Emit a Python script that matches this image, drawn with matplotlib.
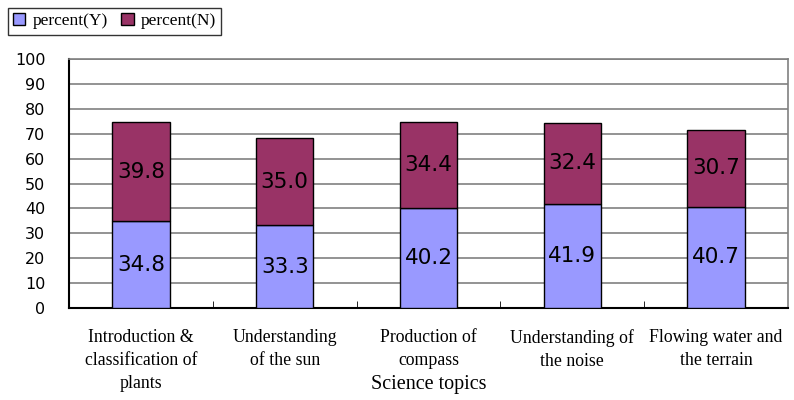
import matplotlib.pyplot as plt
import numpy as np

# Data
topics = ['Introduction &\nclassification of\nplants', 'Understanding\nof the sun',
          'Production of\ncompass', 'Understanding of\nthe noise', 'Flowing water and\nthe terrain']
pct_yes = [34.8, 33.3, 40.2, 41.9, 40.7]
pct_no = [39.8, 35.0, 34.4, 32.4, 30.7]
yticks = [0, 10, 20, 30, 40, 50, 60, 70, 80, 90, 100]

serif = 'Liberation Serif'
fig = plt.figure(figsize=(7.94, 4.0), dpi=100)
ax = fig.add_axes([69 / 794, 1 - 308 / 400, (788 - 69) / 794, (308 - 59) / 400])

x = np.arange(len(topics))
b1 = ax.bar(x, pct_yes, width=0.40, color='#9999FF', edgecolor='black', linewidth=1,
            label='percent(Y)', zorder=3)
b2 = ax.bar(x, pct_no, width=0.40, bottom=pct_yes, color='#993366', edgecolor='black',
            linewidth=1, label='percent(N)', zorder=3)

for i in range(len(topics)):
    ax.text(x[i], pct_yes[i] / 2, f'{pct_yes[i]:.1f}', ha='center', va='center',
            fontsize=15.5, color='black', zorder=4)
    ax.text(x[i], pct_yes[i] + pct_no[i] / 2, f'{pct_no[i]:.1f}', ha='center', va='center',
            fontsize=15.5, color='black', zorder=4)

ax.set_xlim(-0.5, len(topics) - 0.5)
ax.set_ylim(0, 100)
ax.set_yticks(yticks)
ax.tick_params(axis='y', length=0, labelsize=11.5, pad=17)
ax.yaxis.grid(True, color='#808080', linewidth=1.2, zorder=0)

ax.set_xticks(x)
ax.set_xticklabels(topics, fontfamily=serif, fontsize=12.8, linespacing=1.45)
ax.tick_params(axis='x', length=0, pad=15)
ax.set_xticks(np.arange(len(topics) - 1) + 0.5, minor=True)
ax.tick_params(axis='x', which='minor', direction='in', length=5, color='black')

fig.text((69 + 788) / 2 / 794, 1 - 385 / 400, 'Science topics', fontfamily=serif,
         fontsize=14.5, ha='center', va='center')

for s in ['left', 'bottom']:
    ax.spines[s].set_color('black')
    ax.spines[s].set_linewidth(1.5)
for s in ['top', 'right']:
    ax.spines[s].set_color('#808080')
    ax.spines[s].set_linewidth(1.2)

leg = fig.legend(handles=[b1, b2], loc='upper left', bbox_to_anchor=(8 / 794, 1 - 8 / 400),
                 ncol=2, frameon=True, fancybox=False, edgecolor='black',
                 prop={'family': serif, 'size': 12.5}, handlelength=0.7, handleheight=0.7,
                 handletextpad=0.4, columnspacing=0.8, borderpad=0.3, borderaxespad=0)
leg.get_frame().set_linewidth(1)

fig.savefig('out.png', dpi=100)
